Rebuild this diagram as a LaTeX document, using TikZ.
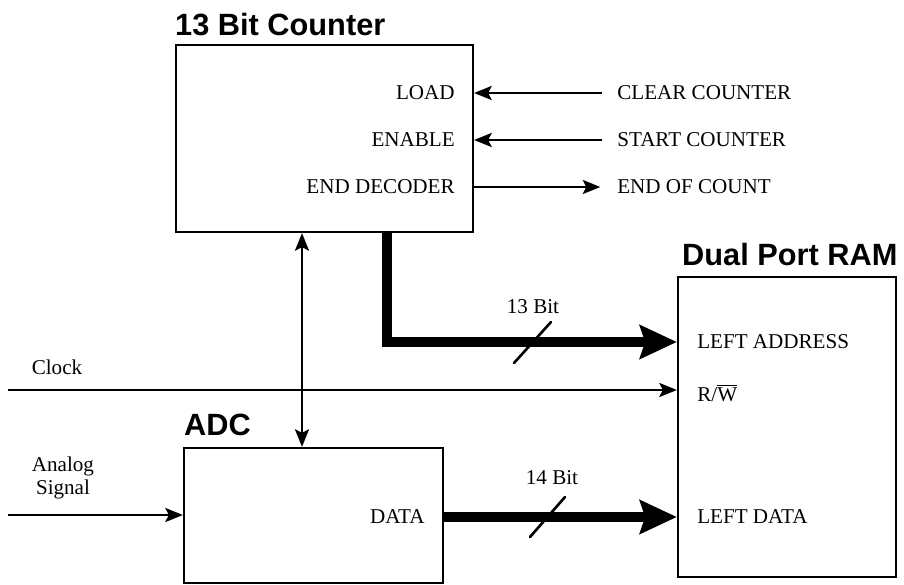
\documentclass[tikz,border=0pt]{standalone}
\usepackage{amsmath}
\usepackage{fontspec}
\setmainfont{Liberation Serif}
\newfontfamily\titlefont{Liberation Sans}
\usepackage{tikz}
\usetikzlibrary{arrows.meta, positioning, calc}

\begin{document}
\begin{tikzpicture}[
x=0.02cm, y=-0.02cm,
font=\fontsize{12}{13.5}\selectfont,
sigtip/.tip={Stealth[length=10pt, width=8pt, inset=2pt]},
blockbox/.style={
rectangle,
draw=black,
line width=1.3pt
},
blocktitle/.style={
font=\titlefont\bfseries\fontsize{17.5}{20}\selectfont,
inner sep=0pt
},
port/.style={
inner sep=0pt
},
sig/.style={
line width=1.3pt,
-sigtip
},
bus/.style={
line width=5.7pt,
-{Stealth[length=21pt, width=19pt, inset=3pt]}
},
buswidth/.style={
line width=1.5pt,
line cap=round
}
]
\useasboundingbox (0,0) rectangle (904,585);

% blocks
\node[blockbox, minimum width=5.94cm, minimum height=3.74cm] (counter) at (324.5,138.5) {};
\node[blockbox, minimum width=4.36cm, minimum height=6.0cm] (ram) at (787,427) {};
\node[blockbox, minimum width=5.18cm, minimum height=2.7cm] (adc) at (313.5,515.5) {};

\node[blocktitle, above right=0.16cm and 0cm of counter.north west] (countertitle) {13 Bit Counter};
\node[blocktitle, above right=0.2cm and 0.1cm of ram.north west] (ramtitle) {Dual Port RAM};
\node[blocktitle, above right=0.22cm and 0.02cm of adc.north west] (adctitle) {ADC};

% ports
\node[port, anchor=east] (load) at (455,93) {LOAD};
\node[port, anchor=east] (enable) at (455,140) {ENABLE};
\node[port, anchor=east] (enddec) at (455,187) {END DECODER};
\node[port, anchor=west] (laddr) at (697,342) {LEFT ADDRESS};
\node[port, anchor=west] (rw) at (697,393) {R/$\overline{\text{W}}$};
\node[port, anchor=west] (ldata) at (697,517) {LEFT DATA};
\node[port, anchor=east] (data) at (425,517) {DATA};

% outside signals
\node[port, anchor=west] (clear) at (617,93) {CLEAR COUNTER};
\node[port, anchor=west] (start) at (617,140) {START COUNTER};
\node[port, anchor=west] (eoc) at (617,187) {END OF COUNT};
\node[port] (clocklabel) at (57,367) {Clock};
\node[port, align=center] (analog) at (63,478) {Analog\\Signal};
\node[port] (bits13) at (533,307) {13 Bit};
\node[port] (bits14) at (552,478) {14 Bit};

\coordinate (clk) at (8,390);
\coordinate (ain) at (8,515);
\coordinate (linkx) at (302,0);
\coordinate (busx) at (387,0);

% control lines
\draw[sig, shorten <=8.5pt] (clear.west) -- (counter.east |- clear.west);
\draw[sig, shorten <=8.5pt] (start.west) -- (counter.east |- start.west);
\draw[sig, shorten >=9.5pt] (counter.east |- enddec.east) -- (eoc.west);
\draw[sig, sigtip-sigtip] (counter.south -| linkx) -- (adc.north -| linkx);
\draw[sig] (clk) -- (ram.west |- clk);
\draw[sig] (ain) -- (adc.west |- ain);

% data buses
\draw[bus] (counter.south -| busx) |- (ram.west |- laddr.west);
\draw[bus] (adc.east |- data.east) -- (ram.west |- ldata.west);
\draw[buswidth] (514,363) -- (551,322);
\draw[buswidth] (530,537) -- (565,497);

\end{tikzpicture}
\end{document}
